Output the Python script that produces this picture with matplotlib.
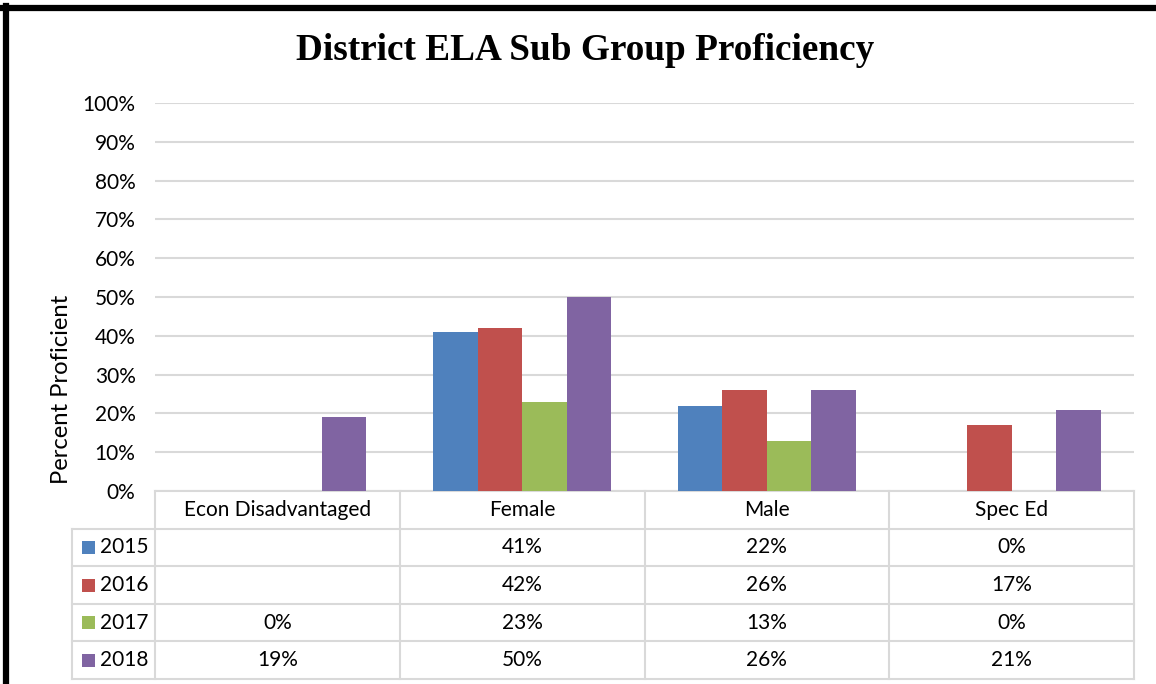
import numpy as np
import matplotlib
matplotlib.use("Agg")
import matplotlib.pyplot as plt
from matplotlib.transforms import blended_transform_factory
from matplotlib.lines import Line2D
from matplotlib.patches import Rectangle

categories = ["Econ Disadvantaged", "Female", "Male", "Spec Ed"]
years = ["2015", "2016", "2017", "2018"]
v2015 = [None, 41, 22, 0]
v2016 = [None, 42, 26, 17]
v2017 = [0, 23, 13, 0]
v2018 = [19, 50, 26, 21]
series = [v2015, v2016, v2017, v2018]
colors = ["#4F81BD", "#C0504D", "#9BBB59", "#8064A2"]
yticks = [0, 10, 20, 30, 40, 50, 60, 70, 80, 90, 100]

FONT = "Lato"
FS = 15
W, H = 1156, 684
fig = plt.figure(figsize=(W / 100, H / 100), dpi=100)

def fx(px):
    return px / W

def fy(py):
    return 1 - py / H

left, right, top, bottom = 155, 1134, 103, 491
ax = fig.add_axes([fx(left), fy(bottom), fx(right - left), (bottom - top) / H])

n = len(categories)
x = np.arange(n)
bw = 0.182
for j, (vals, c) in enumerate(zip(series, colors)):
    arr = np.array([np.nan if v is None else v for v in vals], dtype=float)
    ax.bar(x + (j - 1.5) * bw, arr, width=bw, color=c, linewidth=0, zorder=3)

ax.set_xlim(-0.5, n - 0.5)
ax.set_ylim(0, 100)
ax.set_yticks(yticks)
ax.set_yticklabels([f"{t}%" for t in yticks], fontsize=FS, family=FONT)
ax.set_xticks([])
ax.tick_params(axis="y", length=0, pad=14)
for s in ax.spines.values():
    s.set_visible(False)
ax.yaxis.grid(True, color="#D9D9D9", linewidth=1.5, zorder=0)
ax.set_axisbelow(True)

# data table below the axis
tr = blended_transform_factory(ax.transData, ax.transAxes)
row_h = 37.6 / (bottom - top)
grid_kw = dict(color="#D9D9D9", linewidth=1.5, clip_on=False, zorder=1)
nrows = len(years)
leg_left_px = 72
px_per_unit = (right - left) / n
leg_left = -0.5 - (left - leg_left_px) / px_per_unit

for r in range(nrows + 2):
    yy = -r * row_h
    x0 = -0.5 if r == 0 else leg_left
    ax.add_line(Line2D([x0, n - 0.5], [yy, yy], transform=tr, **grid_kw))
ybot = -(nrows + 1) * row_h
for b in range(n + 1):
    xb = -0.5 + b
    ax.add_line(Line2D([xb, xb], [0, ybot], transform=tr, **grid_kw))
ax.add_line(Line2D([leg_left, leg_left], [-row_h, ybot], transform=tr, **grid_kw))

for i, cat in enumerate(categories):
    ax.text(i, -0.5 * row_h, cat, transform=tr, ha="center", va="center",
            fontsize=FS, family=FONT, clip_on=False)
for r, (yr, vals, c) in enumerate(zip(years, series, colors)):
    yc = -(r + 1.5) * row_h
    kx = leg_left + 10 / px_per_unit
    ks = 13 / px_per_unit
    ax.add_patch(Rectangle((kx, yc - 6.5 / (bottom - top)), ks, 13 / (bottom - top),
                           transform=tr, color=c, clip_on=False, linewidth=0))
    ax.text(kx + ks + 5 / px_per_unit, yc, yr, transform=tr, ha="left", va="center",
            fontsize=FS, family=FONT, clip_on=False)
    for i, v in enumerate(vals):
        if v is not None:
            ax.text(i, yc, f"{v}%", transform=tr, ha="center", va="center",
                    fontsize=FS, family=FONT, clip_on=False)

fig.text(fx(585), fy(50), "District ELA Sub Group Proficiency", ha="center", va="center",
         fontsize=26.8, fontweight="bold", family="Liberation Serif")
fig.text(fx(62), fy(389), "Percent Proficient", rotation=90, ha="center", va="center",
         fontsize=17.2, family=FONT)

fig.add_artist(Line2D([fx(3), fx(W)], [fy(8), fy(8)], color="black", linewidth=4.5,
                      transform=fig.transFigure))
fig.add_artist(Line2D([fx(6), fx(6)], [fy(5.8), fy(H)], color="black", linewidth=4.5,
                      transform=fig.transFigure))

fig.savefig("out.png", dpi=100)
